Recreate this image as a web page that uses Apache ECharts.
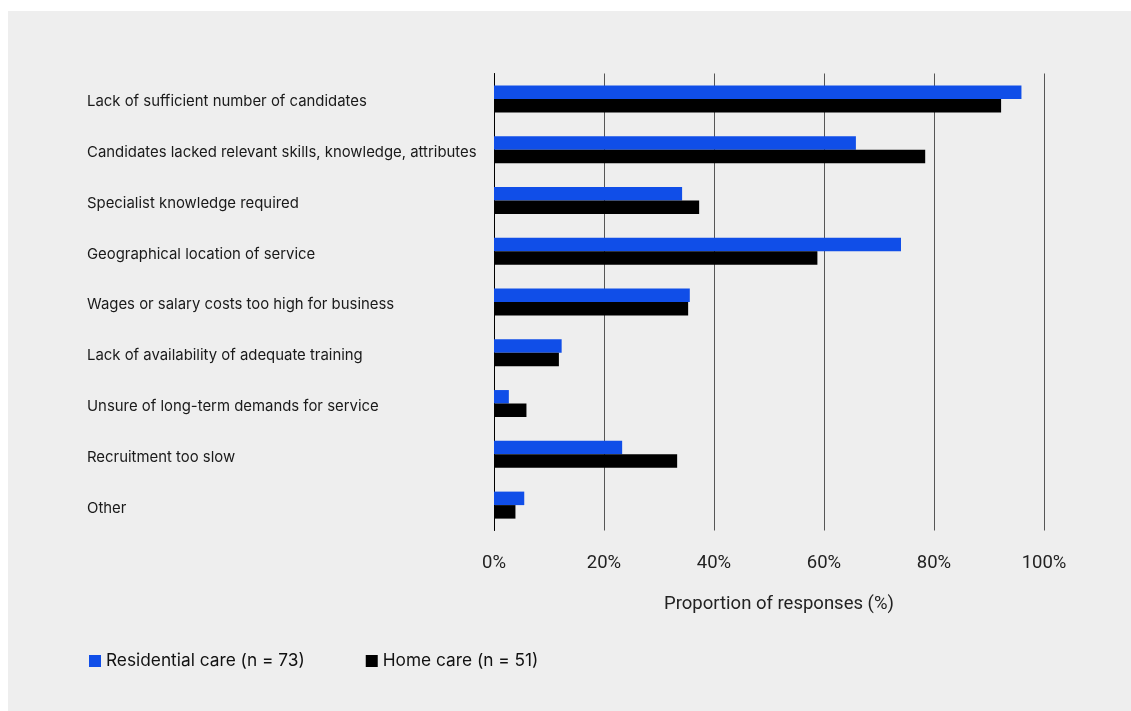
<!DOCTYPE html>
<html>
<head>
<meta charset="utf-8">
<script src="https://cdn.jsdelivr.net/npm/echarts@6/dist/echarts.min.js"></script>
<style>
  html, body { margin: 0; padding: 0; background: #ffffff; }
  #chart { width: 1131px; height: 711px; }
</style>
</head>
<body>
<div id="chart"></div>
<script>
// Reasons for recruitment difficulty, share of respondents (%)
const categories = [
  'Lack of sufficient number of candidates',
  'Candidates lacked relevant skills, knowledge, attributes',
  'Specialist knowledge required',
  'Geographical location of service',
  'Wages or salary costs too high for business',
  'Lack of availability of adequate training',
  'Unsure of long-term demands for service',
  'Recruitment too slow',
  'Other'
];
const residentialCare = [95.9, 65.8, 34.2, 74.0, 35.6, 12.3, 2.7, 23.3, 5.5];
const homeCare = [92.2, 78.4, 37.3, 58.8, 35.3, 11.8, 5.9, 33.3, 3.9];
const seriesNames = ['Residential care (n = 73)', 'Home care (n = 51)'];
const xTicks = [0, 20, 40, 60, 80, 100];

const labelFont = 'Inter, "Liberation Sans", Arial, sans-serif';
const tickFont = 'Roboto, "Liberation Sans", sans-serif';

const chart = echarts.init(document.getElementById('chart'), null, { renderer: 'canvas' });

chart.setOption({
  animation: false,
  backgroundColor: '#ffffff',
  graphic: [{
    type: 'rect',
    z: -10,
    silent: true,
    shape: { x: 8, y: 11, width: 1123, height: 700 },
    style: { fill: '#eeeeee' }
  }],
  grid: {
    left: 494,
    right: 87,
    top: 73.5,
    height: 457,
    containLabel: false
  },
  legend: {
    left: 84,
    top: 646,
    icon: 'rect',
    itemWidth: 12,
    itemHeight: 12,
    itemGap: 61,
    textStyle: {
      fontFamily: labelFont,
      fontSize: 17.3,
      color: '#111111',
      lineHeight: 20
    },
    data: seriesNames
  },
  xAxis: {
    type: 'value',
    min: xTicks[0],
    max: xTicks[xTicks.length - 1],
    interval: 20,
    name: 'Proportion of responses (%)',
    nameLocation: 'middle',
    nameGap: 64,
    nameTextStyle: {
      fontFamily: tickFont,
      fontSize: 18.5,
      color: '#222222',
      padding: [0, 0, 0, 20]
    },
    axisLine: { show: false },
    axisTick: { show: false },
    axisLabel: {
      margin: 23,
      fontFamily: tickFont,
      fontSize: 18.5,
      color: '#222222',
      formatter: v => v + '%'
    },
    splitLine: {
      show: true,
      lineStyle: { color: '#555555', width: 1 }
    }
  },
  yAxis: {
    type: 'category',
    inverse: true,
    data: categories,
    axisLine: { show: true, lineStyle: { color: '#000000', width: 1 } },
    axisTick: { show: false },
    axisLabel: {
      align: 'left',
      verticalAlign: 'top',
      lineHeight: 6,
      margin: 407,
      fontFamily: labelFont,
      fontSize: 14.9,
      color: '#1a1a1a'
    }
  },
  series: [
    {
      name: seriesNames[0],
      type: 'bar',
      data: residentialCare,
      barWidth: 13.5,
      barGap: '0%',
      itemStyle: { color: '#104ee8' }
    },
    {
      name: seriesNames[1],
      type: 'bar',
      data: homeCare,
      barWidth: 13.5,
      barGap: '0%',
      itemStyle: { color: '#000000' }
    }
  ]
});
</script>
</body>
</html>
